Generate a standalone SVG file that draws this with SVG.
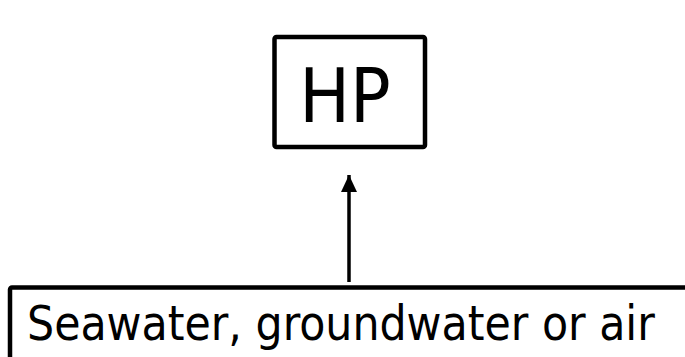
<svg xmlns="http://www.w3.org/2000/svg" width="685" height="357" viewBox="0 0 685 357">
<style>
.box{fill:#fff;stroke:#000;stroke-width:4.5}
.lbl{font-family:"DejaVu Sans Condensed","DejaVu Sans",Tahoma,sans-serif;font-stretch:condensed;fill:#000}
</style>
<defs>
<marker id="ah" viewBox="0 0 17 16" refX="17" refY="8" markerWidth="17" markerHeight="16" markerUnits="userSpaceOnUse" orient="auto">
<path d="M0,0L17,8L0,16z" fill="#000"/>
</marker>
</defs>
<rect width="685" height="357" fill="#fff"/>
<g id="hp">
<rect class="box" x="274.5" y="37" width="150.5" height="110" rx="2"/>
<text class="lbl" x="345" y="121.5" font-size="75" text-anchor="middle">HP</text>
</g>
<g id="source">
<rect class="box" x="10" y="287.5" width="690" height="72" rx="2"/>
<text class="lbl" x="27" y="340" font-size="47.5">Seawater, groundwater or air</text>
</g>
<g id="connectors">
<line x1="349" y1="282" x2="349" y2="175" stroke="#000" stroke-width="3.5" marker-end="url(#ah)"/>
</g>
</svg>
